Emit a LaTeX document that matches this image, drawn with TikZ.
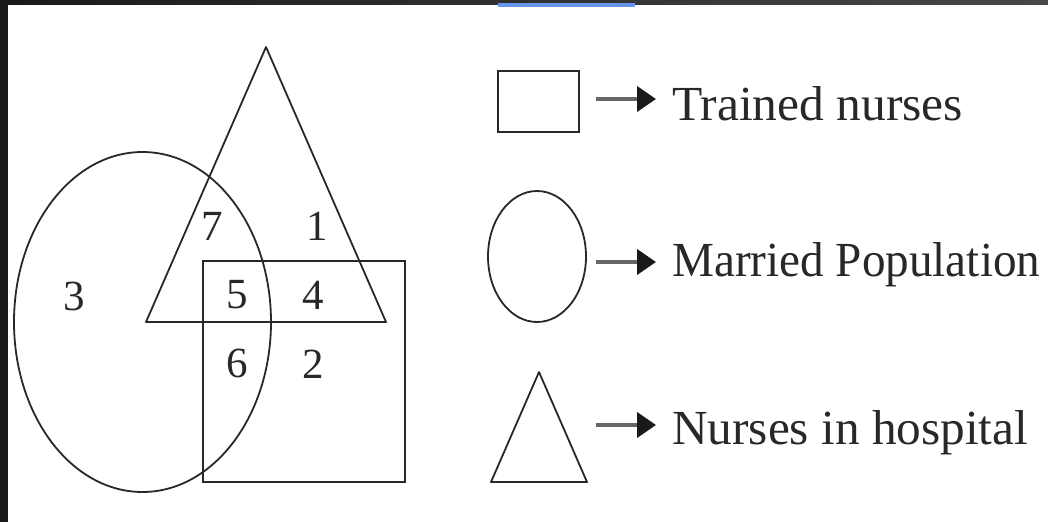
\documentclass[tikz,border=0pt]{standalone}
\usepackage{fontspec}
\setmainfont{Liberation Serif}
\usetikzlibrary{arrows.meta}
\definecolor{blueline}{RGB}{100,150,235}
\definecolor{ink}{RGB}{40,40,40}
\begin{document}
\begin{tikzpicture}[x=1pt,y=-1pt,
  vennline/.style={draw=ink, line width=1.8pt, line join=round},
  boxline/.style={draw=ink, line width=2.4pt},
  digit/.style={font=\fontsize{43}{43}\selectfont, inner sep=0pt, text=ink},
  legtext/.style={font=\fontsize{49}{49}\selectfont, anchor=base west, inner sep=0pt, text=ink},
  legarrow/.style={line width=4pt, draw=black!60, -{Triangle[length=19pt,width=25pt,color=black!90]}}
]
\useasboundingbox (0,0) rectangle (1048,522);
\fill[white] (0,0) rectangle (1048,522);
% frame artefacts
\shade[left color=black!90, right color=black!72] (0,0) rectangle (1048,4);
\fill[black!90] (0,0) rectangle (8,522);
\fill[blueline] (498,3) rectangle (635,7);

% main Venn figure
\coordinate (triA) at (266,47);
\coordinate (triL) at (146,322);
\coordinate (triR) at (386,322);
\draw[vennline] (triA) -- (triL) -- (triR) -- cycle;
\coordinate (circC) at (142.5,322);
\draw[vennline] (circC) ellipse [x radius=128.5pt, y radius=170pt];
\coordinate (rectTL) at (203,261);
\coordinate (rectBR) at (405,482);
\draw[boxline] (rectTL) rectangle (rectBR);

\node[digit] (d7) at (212,226) {7};
\node[digit] (d1) at (317,226) {1};
\node[digit] (d3) at (74,296) {3};
\node[digit] (d5) at (237,295) {5};
\node[digit] (d4) at (313,295) {4};
\node[digit] (d6) at (237,363) {6};
\node[digit] (d2) at (313,364) {2};

% legend
\coordinate (lrTL) at (498,71);
\coordinate (lrBR) at (579,132);
\draw[boxline] (lrTL) rectangle (lrBR);
\coordinate (leC) at (537,256.5);
\draw[vennline] (leC) ellipse [x radius=49pt, y radius=65.5pt];
\coordinate (ltA) at (539,372);
\coordinate (ltL) at (491,482);
\coordinate (ltR) at (587,482);
\draw[vennline] (ltA) -- (ltL) -- (ltR) -- cycle;

\node[legtext] (t1) at (672,120) {\resizebox{291pt}{\height}{Trained nurses}};
\node[legtext] (t2) at (672,276) {\resizebox{368pt}{\height}{Married Population}};
\node[legtext] (t3) at (672,444) {\resizebox{356pt}{\height}{Nurses in hospital}};

\coordinate (a1s) at (596,99);   \coordinate (a1e) at (656,99);
\coordinate (a2s) at (596,262);  \coordinate (a2e) at (656,262);
\coordinate (a3s) at (596,425);  \coordinate (a3e) at (656,425);
\draw[legarrow] (a1s) -- (a1e);
\draw[legarrow] (a2s) -- (a2e);
\draw[legarrow] (a3s) -- (a3e);
\end{tikzpicture}
\end{document}
